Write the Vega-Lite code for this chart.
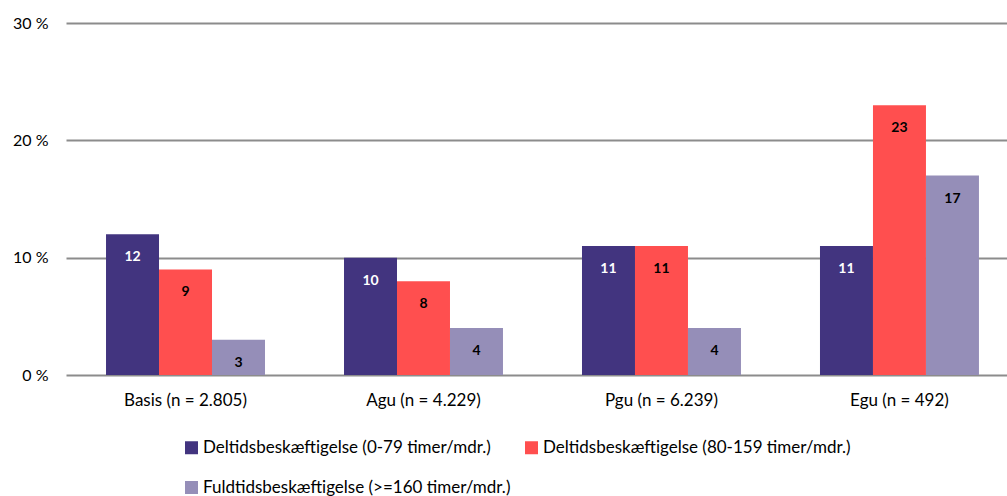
{
  "$schema": "https://vega.github.io/schema/vega-lite/v6.json",
  "width": 941,
  "height": 352,
  "autosize": "none",
  "padding": {"left": 66, "top": 23, "right": 0, "bottom": 121},
  "background": "white",
  "config": {
    "font": "Lato",
    "view": {"stroke": null}
  },
  "data": {
    "values": [
      {"gruppe": "Basis (n = 2.805)", "type": "Deltidsbeskæftigelse (0-79 timer/mdr.)", "pct": 12},
      {"gruppe": "Basis (n = 2.805)", "type": "Deltidsbeskæftigelse (80-159 timer/mdr.)", "pct": 9},
      {"gruppe": "Basis (n = 2.805)", "type": "Fuldtidsbeskæftigelse (>=160 timer/mdr.)", "pct": 3},
      {"gruppe": "Agu (n = 4.229)", "type": "Deltidsbeskæftigelse (0-79 timer/mdr.)", "pct": 10},
      {"gruppe": "Agu (n = 4.229)", "type": "Deltidsbeskæftigelse (80-159 timer/mdr.)", "pct": 8},
      {"gruppe": "Agu (n = 4.229)", "type": "Fuldtidsbeskæftigelse (>=160 timer/mdr.)", "pct": 4},
      {"gruppe": "Pgu (n = 6.239)", "type": "Deltidsbeskæftigelse (0-79 timer/mdr.)", "pct": 11},
      {"gruppe": "Pgu (n = 6.239)", "type": "Deltidsbeskæftigelse (80-159 timer/mdr.)", "pct": 11},
      {"gruppe": "Pgu (n = 6.239)", "type": "Fuldtidsbeskæftigelse (>=160 timer/mdr.)", "pct": 4},
      {"gruppe": "Egu (n = 492)", "type": "Deltidsbeskæftigelse (0-79 timer/mdr.)", "pct": 11},
      {"gruppe": "Egu (n = 492)", "type": "Deltidsbeskæftigelse (80-159 timer/mdr.)", "pct": 23},
      {"gruppe": "Egu (n = 492)", "type": "Fuldtidsbeskæftigelse (>=160 timer/mdr.)", "pct": 17}
    ]
  },
  "encoding": {
    "x": {
      "field": "gruppe",
      "type": "nominal",
      "sort": null,
      "scale": {"paddingInner": 0.332, "paddingOuter": 0.143, "align": 0.588},
      "axis": {
        "title": null,
        "labelAngle": 0,
        "labelFontSize": 17,
        "labelColor": "#000000",
        "labelPadding": 17,
        "domain": false,
        "ticks": false
      }
    },
    "xOffset": {
      "field": "type",
      "type": "nominal",
      "sort": null,
      "scale": {"paddingInner": 0, "paddingOuter": 0}
    },
    "y": {
      "field": "pct",
      "type": "quantitative",
      "scale": {"domain": [0, 30], "nice": false},
      "axis": {
        "title": null,
        "values": [0, 10, 20, 30],
        "labelExpr": "datum.value + ' %'",
        "labelFontSize": 16,
        "labelColor": "#000000",
        "labelPadding": 18,
        "domain": false,
        "ticks": false,
        "grid": true,
        "gridColor": "#8c8c8c",
        "gridWidth": 2
      }
    }
  },
  "layer": [
    {
      "mark": {"type": "bar"},
      "encoding": {
        "color": {
          "field": "type",
          "type": "nominal",
          "sort": null,
          "scale": {
            "domain": ["Deltidsbeskæftigelse (0-79 timer/mdr.)", "Deltidsbeskæftigelse (80-159 timer/mdr.)", "Fuldtidsbeskæftigelse (>=160 timer/mdr.)"],
            "range": ["#42347f", "#ff4f4f", "#958eb8"]
          },
          "legend": {
            "title": null,
            "orient": "none",
            "legendX": 117,
            "legendY": 416,
            "direction": "horizontal",
            "columns": 2,
            "columnPadding": 12,
            "rowPadding": 22,
            "symbolType": "square",
            "symbolSize": 169,
            "symbolStrokeWidth": 0,
            "symbolOpacity": 1,
            "labelFontSize": 17,
            "labelColor": "#000000",
            "labelOffset": 3,
            "labelLimit": 500
          }
        }
      }
    },
    {
      "mark": {"type": "text", "baseline": "middle", "dy": 23, "fontSize": 14, "fontWeight": "bold"},
      "encoding": {
        "text": {"field": "pct", "type": "quantitative"},
        "color": {
          "condition": {"test": "datum.type === 'Deltidsbeskæftigelse (0-79 timer/mdr.)'", "value": "#ffffff"},
          "value": "#000000"
        }
      }
    }
  ]
}
